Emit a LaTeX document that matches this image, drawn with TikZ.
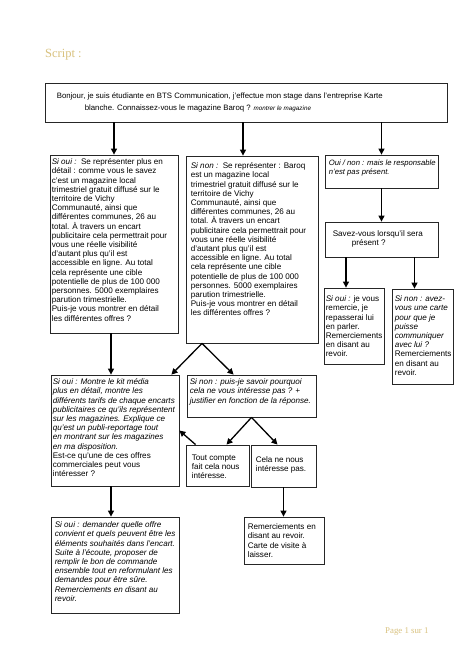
\documentclass[tikz,border=0pt]{standalone}
\usepackage{fontspec}
\setmainfont{Liberation Sans}
\newfontfamily\goldserif{Liberation Serif}
\usetikzlibrary{arrows.meta,fit,calc}
\definecolor{gold}{HTML}{D9C27F}
\begin{document}
\begin{tikzpicture}[x=1pt,y=-1pt,
  box/.style={draw=black!85, line width=0.8pt, inner sep=0pt},
  txt/.style={anchor=north west, inner sep=0pt, align=left, font=\fontsize{8.1}{9.2}\selectfont},
  arr/.style={line width=1.3pt, -{Triangle[length=6pt,width=6pt]}},
  gold text/.style={text=gold, inner sep=0pt, font=\goldserif}]
\useasboundingbox[fill=white] (0,0) rectangle (474,670);

\node[gold text, anchor=west, font=\goldserif\fontsize{12.5}{14}\selectfont] (title) at (45,55) {Script :};
\node[gold text, anchor=west, font=\goldserif\fontsize{8.8}{10}\selectfont] (page) at (385,632) {Page 1 sur 1};

% boxes
\node[box, fit={(45,83) (447,122)}] (top) {};
\node[box, fit={(50,155) (178,333)}] (A) {};
\node[box, fit={(186,156) (318,343)}] (B) {};
\node[box, fit={(325,155) (438,188)}] (C) {};
\node[box, fit={(325,222) (438,257)}] (D) {};
\node[box, fit={(324,288) (384,364)}] (E) {};
\node[box, fit={(392,289) (453,384)}] (F) {};
\node[box, fit={(51,375) (179,486)}] (G) {};
\node[box, fit={(187,375) (316,417)}] (H) {};
\node[box, fit={(186,445) (249,486)}] (I) {};
\node[box, fit={(251,445) (316,487)}] (J) {};
\node[box, fit={(51,517) (179,613)}] (K) {};
\node[box, fit={(244,517) (324,564)}] (L) {};

% texts
\node[txt, font=\fontsize{7.8}{12}\selectfont] (topt) at ([shift={(12,10)}]top.north west)
 {Bonjour, je suis étudiante en BTS Communication, j’effectue mon stage dans l’entreprise Karte\\
 \hspace*{28pt}blanche. Connaissez-vous le magazine Baroq ? {\fontsize{6.3}{8}\selectfont\itshape montrer le magazine}};

\node[txt] (At) at ([shift={(2,4)}]A.north west)
 {\textit{Si oui :}\ \ Se représenter plus en\\
 détail : comme vous le savez\\
 c’est un magazine local\\
 trimestriel gratuit diffusé sur le\\
 territoire de Vichy\\
 Communauté, ainsi que\\
 différentes communes, 26 au\\
 total. À travers un encart\\
 publicitaire cela permettrait pour\\
 vous une réelle visibilité\\
 d’autant plus qu’il est\\
 accessible en ligne. Au total\\
 cela représente une cible\\
 potentielle de plus de 100 000\\
 personnes. 5000 exemplaires\\
 parution trimestrielle.\\
 Puis-je vous montrer en détail\\
 les différentes offres ?};

\node[txt] (Bt) at ([shift={(5,7)}]B.north west)
 {\textit{Si non :}\ \ Se représenter : Baroq\\
 est un magazine local\\
 trimestriel gratuit diffusé sur le\\
 territoire de Vichy\\
 Communauté, ainsi que\\
 différentes communes, 26 au\\
 total. À travers un encart\\
 publicitaire cela permettrait pour\\
 vous une réelle visibilité\\
 d’autant plus qu’il est\\
 accessible en ligne. Au total\\
 cela représente une cible\\
 potentielle de plus de 100 000\\
 personnes. 5000 exemplaires\\
 parution trimestrielle.\\
 Puis-je vous montrer en détail\\
 les différentes offres ?};

\node[txt, font=\fontsize{7.7}{9.2}\selectfont\itshape] (Ct) at ([shift={(4,5)}]C.north west)
 {Oui / non : mais le responsable\\n’est pas présent.};

\node[txt] (Dt) at ([shift={(8,9)}]D.north west)
 {Savez-vous lorsqu’il sera\\\hspace*{19pt}présent ?};

\node[txt] (Et) at ([shift={(2,8)}]E.north west)
 {\textit{Si oui :} je vous\\remercie, je\\repasserai lui\\en parler.\\Remerciements\\en disant au\\revoir.};

\node[txt] (Ft) at ([shift={(3,7)}]F.north west)
 {\textit{Si non : avez-}\\\textit{vous une carte}\\\textit{pour que je}\\\textit{puisse}\\\textit{communiquer}\\\textit{avec lui ?}\\Remerciements\\en disant au\\revoir.};

\node[txt] (Gt) at ([shift={(2,4)}]G.north west)
 {\textit{Si oui : Montre le kit média}\\
 \textit{plus en détail, montre les}\\
 \textit{différents tarifs de chaque encarts}\\
 \textit{publicitaires ce qu’ils représentent}\\
 \textit{sur les magazines. Explique ce}\\
 \textit{qu’est un publi-reportage tout}\\
 \textit{en montrant sur les magazines}\\
 \textit{en ma disposition.}\\
 Est-ce qu’une de ces offres\\
 commerciales peut vous\\
 intéresser ?};

\node[txt, font=\fontsize{8.1}{9.2}\selectfont\itshape] (Ht) at ([shift={(3,4)}]H.north west)
 {Si non : puis-je savoir pourquoi\\
 cela ne vous intéresse pas ? +\\
 justifier en fonction de la réponse.};

\node[txt] (It) at ([shift={(6,10)}]I.north west)
 {Tout compte\\fait cela nous\\intéresse.};

\node[txt] (Jt) at ([shift={(5,12)}]J.north west)
 {Cela ne nous\\intéresse pas.};

\node[txt, font=\fontsize{8.1}{9.2}\selectfont\itshape] (Kt) at ([shift={(4,5)}]K.north west)
 {Si oui : demander quelle offre\\
 convient et quels peuvent être les\\
 éléments souhaités dans l’encart.\\
 Suite à l’écoute, proposer de\\
 remplir le bon de commande\\
 ensemble tout en reformulant les\\
 demandes pour être sûre.\\
 Remerciements en disant au\\
 revoir.};

\node[txt] (Lt) at ([shift={(4,7)}]L.north west)
 {Remerciements en\\disant au revoir.\\Carte de visite à\\laisser.};

% connectors
\draw[arr] (top.south -| A.north) -- (A.north);
\draw[arr] ([xshift=-9pt]B.north |- top.south) -- ([xshift=-9pt]B.north);
\draw[arr] (top.south -| C.north) -- (C.north);
\draw[arr] (C.south) -- (D.north);
\draw[arr] ([xshift=-8pt]E.north |- D.south) -- ([xshift=-8pt]E.north);
\draw[arr] ([xshift=-8pt]F.north |- D.south) -- ([xshift=-8pt]F.north);
\draw[arr] ([xshift=-3pt]A.south) -- ([xshift=-3pt]A.south |- G.north);
\draw[arr] ([xshift=-50pt]B.south) -- ([xshift=-8pt]G.north east);
\draw[arr] ([xshift=-50pt]B.south) -- ([xshift=47pt]H.north west);
\draw[arr] (H.south) -- ([xshift=9pt]I.north);
\draw[arr] (H.south) -- ([xshift=-6pt]J.north);
\draw[arr] ([xshift=10pt]I.north west) -- (G.east);
\draw[arr] ([xshift=-4pt]G.south) -- ([xshift=-4pt]K.north);
\draw[arr] (J.south) -- (J.south |- L.north);
\end{tikzpicture}
\end{document}
